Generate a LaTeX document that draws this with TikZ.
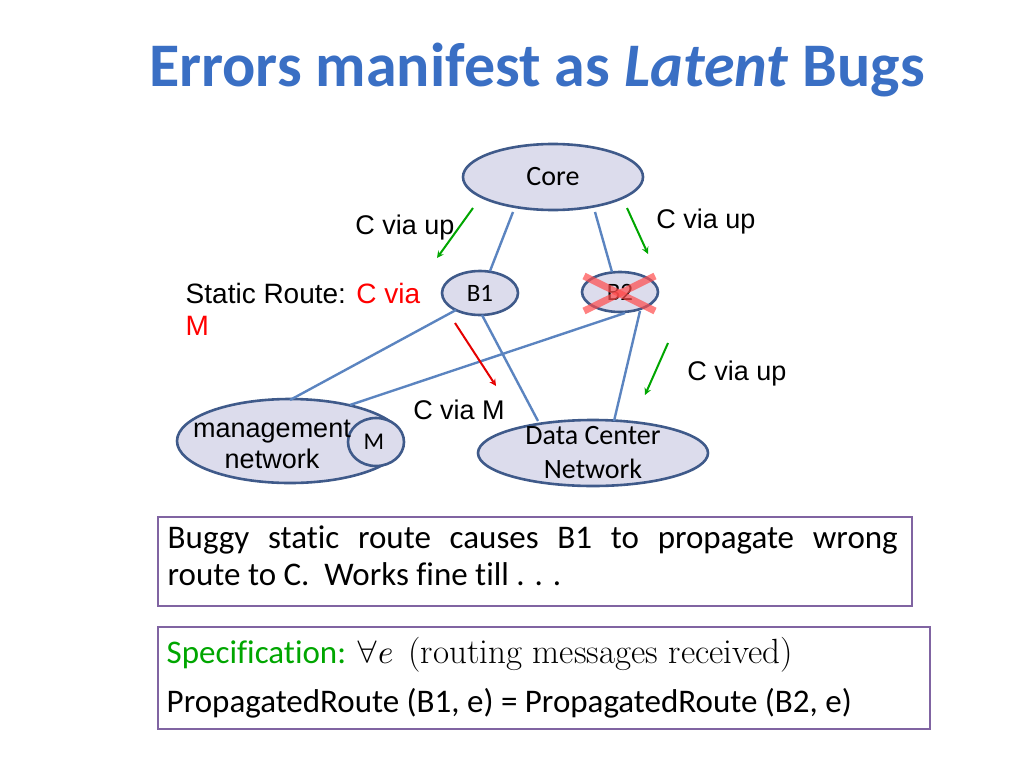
\documentclass[tikz,border=0pt]{standalone}
\usepackage{fontspec}
\setmainfont{Carlito}[Ligatures={NoCommon}]
\newfontfamily\arialf{Liberation Sans}
\newfontfamily\mathf{Latin Modern Math}
\begin{document}
\begin{tikzpicture}[x=1pt,y=-1pt, thick,
  net/.style = {draw=netborder, fill=netfill, line width=2.6pt},
  link/.style = {draw=linkblue, line width=2.4pt},
  upmsg/.style = {->, >=stealth, draw=green!65!black, line width=2pt},
  badmsg/.style = {->, >=stealth, draw=red!90!black, line width=2pt},
  lbl/.style = {font=\arialf\fontsize{27}{31}\selectfont},
  specbox/.style = {draw=boxpurple, line width=2.2pt}]
\definecolor{netborder}{HTML}{3F5A8A}
\definecolor{netfill}{HTML}{DCDCEC}
\definecolor{linkblue}{HTML}{5B84C0}
\definecolor{boxpurple}{HTML}{8064A2}
\definecolor{titleblue}{HTML}{3A6FC4}
\useasboundingbox (0,0) rectangle (1024,768);
\node[text=titleblue, font=\bfseries\fontsize{62}{68}\selectfont] (title) at (537,70) {Errors manifest as \textit{Latent} Bugs};

% nodes
\draw[net] (553,177) ellipse (90 and 33);
\node (core) at (553,177) {\fontsize{28}{30}\selectfont Core};
\draw[net] (480,293) ellipse (38 and 22);
\node (b1) at (480,293) {\fontsize{25}{28}\selectfont B1};
\draw[net] (620,292) ellipse (38 and 20);
\node (b2) at (620,292) {\fontsize{25}{28}\selectfont B2};
\draw[net] (290,441) ellipse (113 and 42);
\draw[net] (376,442) ellipse (28 and 24);
\node (mgmt) at (272,444) [lbl, align=center] {management\\network};
\node (m) at (374,442) {\fontsize{24}{26}\selectfont M};
\draw[net] (593,453) ellipse (115 and 33);
\node (dcn) at (593,453) [align=center, font=\fontsize{28}{34}\selectfont] {Data Center\\Network};

% links
\draw[link] (513,212) -- (490,271);
\draw[link] (595,212) -- (612,272);
\draw[link] (456,310) -- (290,400);
\draw[link] (625,313) -- (350,405);
\draw[link] (482,315) -- (538,421);
\draw[link] (640,311) -- (614,421);

% failed B2
\draw[red!70, opacity=0.7, line width=7pt] (584,276) -- (655,311);
\draw[red!70, opacity=0.7, line width=7pt] (584,311) -- (655,276);

% messages
\draw[upmsg] (473,208) -- (437,258);
\draw[upmsg] (627,208) -- (648,254);
\draw[upmsg] (668,343) -- (645,395);
\draw[badmsg] (455,323) -- (496,386);
\node[lbl] (l1) at (405,228) {C via up};
\node[lbl] (l2) at (706,222) {C via up};
\node[lbl] (l3) at (737,374) {C via up};
\node[lbl] (l4) at (459,410) {C via M};
\node[lbl, anchor=west, font=\arialf\fontsize{28}{31}\selectfont] (sr) at (182,293) {Static Route: \textcolor{red}{C via}};
\node[lbl, anchor=west, text=red, font=\arialf\fontsize{28}{31}\selectfont] (srm) at (182,326) {M};

% boxes
\draw[specbox] (158,517) rectangle (912,606);
\node[anchor=north west, text width=730pt, align=justify, font=\fontsize{33}{37}\selectfont] (bug) at (164,522)
  {Buggy static route causes B1 to propagate wrong\linebreak route to C.\ \ Works fine till . . .};
\draw[specbox] (158,627) rectangle (930,729);
\node[anchor=west, font=\fontsize{33}{36}\selectfont] (spec) at (163,655)
  {\textcolor{green!65!black}{Specification:} {\mathf ∀𝑒}\ \ {\fontspec{Latin Modern Roman}\fontsize{35}{36}\selectfont(routing messages received)}};
\node[anchor=west, font=\fontsize{33}{36}\selectfont] (prop) at (163,703)
  {PropagatedRoute (B1, e) = PropagatedRoute (B2, e)};
\end{tikzpicture}
\end{document}
